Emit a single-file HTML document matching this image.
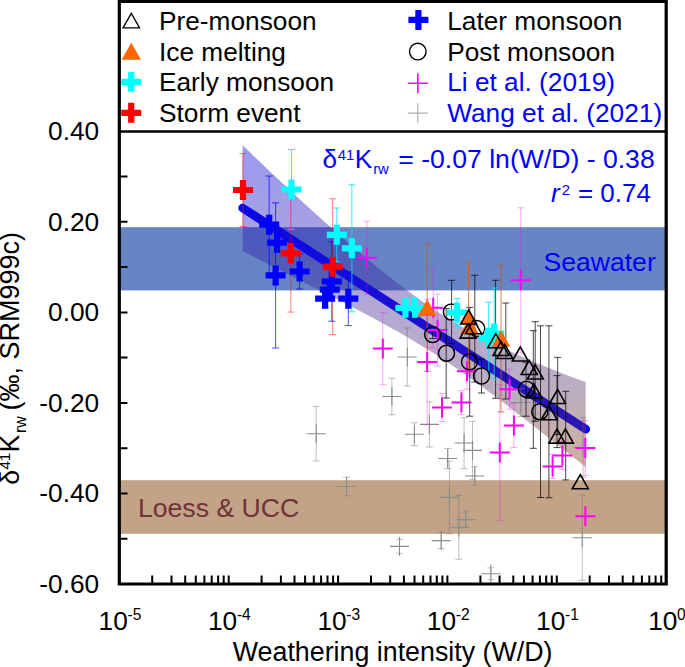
<!DOCTYPE html><html><head><meta charset="utf-8"><title>fig</title>
<style>html,body{margin:0;padding:0;background:#fff;}svg{display:block;}text{font-family:"Liberation Sans",sans-serif;}</style></head><body>
<svg width="685" height="667" viewBox="0 0 685 667">
<defs><linearGradient id="cb" gradientUnits="userSpaceOnUse" x1="0" y1="145" x2="0" y2="468"><stop offset="0" stop-color="#0000d8"/><stop offset="0.48" stop-color="#3e2598"/><stop offset="0.79" stop-color="#5c375c"/><stop offset="1" stop-color="#8a3700"/></linearGradient></defs>
<rect x="0" y="0" width="685" height="667" fill="#fff"/>
<rect x="119.3" y="227.2" width="546.9000000000001" height="63.19999999999999" fill="#6785c4"/>
<rect x="119.3" y="480.2" width="546.9000000000001" height="53.599999999999966" fill="#c2a387"/>
<path d="M242.6 208L585.7 429.2" stroke="#0000ff" stroke-width="8.6" stroke-linecap="round" fill="none"/>
<polygon fill="url(#cb)" fill-opacity="0.4" points="242.6,145.3 251.2,153.6 259.8,161.8 268.3,169.9 276.9,178.0 285.5,186.1 294.1,194.0 302.6,202.0 311.2,209.8 319.8,217.6 328.4,225.2 337.0,232.8 345.5,240.4 354.1,247.8 362.7,255.0 371.3,262.2 379.8,269.2 388.4,276.1 397.0,282.8 405.6,289.3 414.1,295.6 422.7,301.7 431.3,307.6 439.9,313.2 448.5,318.6 457.0,323.8 465.6,328.7 474.2,333.4 482.8,338.0 491.3,342.3 499.9,346.5 508.5,350.5 517.1,354.4 525.7,358.2 534.2,361.9 542.8,365.5 551.4,369.0 560.0,372.4 568.5,375.7 577.1,378.9 585.7,382.1 585.7,467.1 577.1,460.3 568.5,453.5 560.0,446.8 551.4,440.0 542.8,433.3 534.2,426.5 525.7,419.8 517.1,413.2 508.5,406.6 499.9,400.0 491.3,393.5 482.8,387.2 474.2,380.9 465.6,374.8 457.0,368.8 448.5,362.9 439.9,357.2 431.3,351.7 422.7,346.4 414.1,341.2 405.6,336.1 397.0,331.2 388.4,326.4 379.8,321.7 371.3,317.1 362.7,312.6 354.1,308.1 345.5,303.6 337.0,299.2 328.4,294.9 319.8,290.5 311.2,286.1 302.6,281.8 294.1,277.4 285.5,273.1 276.9,268.7 268.3,264.3 259.8,259.9 251.2,255.5 242.6,251.1"/>
<path d="M316.2 406.4V461.0M312.7 406.4h7M312.7 461.0h7" stroke="#707070" stroke-width="1" fill="none" opacity="0.45"/>
<path d="M346.6 477.2V495.8M343.1 477.2h7M343.1 495.8h7" stroke="#707070" stroke-width="1" fill="none" opacity="0.45"/>
<path d="M391.9 378.2V414.8M388.4 378.2h7M388.4 414.8h7" stroke="#707070" stroke-width="1" fill="none" opacity="0.45"/>
<path d="M407.3 328.0V386.0M403.8 328.0h7M403.8 386.0h7" stroke="#707070" stroke-width="1" fill="none" opacity="0.45"/>
<path d="M414.4 422.8V445.6M410.9 422.8h7M410.9 445.6h7" stroke="#707070" stroke-width="1" fill="none" opacity="0.45"/>
<path d="M429.4 401.8V447.0M425.9 401.8h7M425.9 447.0h7" stroke="#707070" stroke-width="1" fill="none" opacity="0.45"/>
<path d="M447.7 448.5V468.5M444.2 448.5h7M444.2 468.5h7" stroke="#707070" stroke-width="1" fill="none" opacity="0.45"/>
<path d="M464.1 417.6V468.4M460.6 417.6h7M460.6 468.4h7" stroke="#707070" stroke-width="1" fill="none" opacity="0.45"/>
<path d="M472.5 421.4V479.4M469.0 421.4h7M469.0 479.4h7" stroke="#707070" stroke-width="1" fill="none" opacity="0.45"/>
<path d="M474.8 466.7V485.3M471.3 466.7h7M471.3 485.3h7" stroke="#707070" stroke-width="1" fill="none" opacity="0.45"/>
<path d="M449.4 461.1V533.7M445.9 461.1h7M445.9 533.7h7" stroke="#707070" stroke-width="1" fill="none" opacity="0.45"/>
<path d="M458.8 495.3V559.3M455.3 495.3h7M455.3 559.3h7" stroke="#707070" stroke-width="1" fill="none" opacity="0.45"/>
<path d="M465.8 511.9V527.3M462.3 511.9h7M462.3 527.3h7" stroke="#707070" stroke-width="1" fill="none" opacity="0.45"/>
<path d="M399.5 539.4V553.4M396.0 539.4h7M396.0 553.4h7" stroke="#707070" stroke-width="1" fill="none" opacity="0.45"/>
<path d="M441.2 532.6V548.6M437.7 532.6h7M437.7 548.6h7" stroke="#707070" stroke-width="1" fill="none" opacity="0.45"/>
<path d="M490.8 567.8V579.8M487.3 567.8h7M487.3 579.8h7" stroke="#707070" stroke-width="1" fill="none" opacity="0.45"/>
<path d="M582.3 495.1V580.3M578.8 495.1h7M578.8 580.3h7" stroke="#707070" stroke-width="1" fill="none" opacity="0.45"/>
<path d="M520.8 388.5V416.5M517.3 388.5h7M517.3 416.5h7" stroke="#707070" stroke-width="1" fill="none" opacity="0.45"/>
<path d="M583.0 417.5V477.5M579.5 417.5h7M579.5 477.5h7" stroke="#707070" stroke-width="1" fill="none" opacity="0.45"/>
<path d="M306.7 433.7h19M316.2 424.2v19" stroke="#8c8c8c" stroke-width="1.1" fill="none"/>
<path d="M337.1 486.5h19M346.6 477.0v19" stroke="#8c8c8c" stroke-width="1.1" fill="none"/>
<path d="M382.4 396.5h19M391.9 387.0v19" stroke="#8c8c8c" stroke-width="1.1" fill="none"/>
<path d="M397.8 357.0h19M407.3 347.5v19" stroke="#8c8c8c" stroke-width="1.1" fill="none"/>
<path d="M404.9 434.2h19M414.4 424.7v19" stroke="#8c8c8c" stroke-width="1.1" fill="none"/>
<path d="M419.9 424.4h19M429.4 414.9v19" stroke="#8c8c8c" stroke-width="1.1" fill="none"/>
<path d="M438.2 458.5h19M447.7 449.0v19" stroke="#8c8c8c" stroke-width="1.1" fill="none"/>
<path d="M454.6 443.0h19M464.1 433.5v19" stroke="#8c8c8c" stroke-width="1.1" fill="none"/>
<path d="M463.0 450.4h19M472.5 440.9v19" stroke="#8c8c8c" stroke-width="1.1" fill="none"/>
<path d="M465.3 476.0h19M474.8 466.5v19" stroke="#8c8c8c" stroke-width="1.1" fill="none"/>
<path d="M439.9 497.4h19M449.4 487.9v19" stroke="#8c8c8c" stroke-width="1.1" fill="none"/>
<path d="M449.3 527.3h19M458.8 517.8v19" stroke="#8c8c8c" stroke-width="1.1" fill="none"/>
<path d="M456.3 519.6h19M465.8 510.1v19" stroke="#8c8c8c" stroke-width="1.1" fill="none"/>
<path d="M390.0 546.4h19M399.5 536.9v19" stroke="#8c8c8c" stroke-width="1.1" fill="none"/>
<path d="M431.7 540.6h19M441.2 531.1v19" stroke="#8c8c8c" stroke-width="1.1" fill="none"/>
<path d="M481.3 573.8h19M490.8 564.3v19" stroke="#8c8c8c" stroke-width="1.1" fill="none"/>
<path d="M572.8 537.7h19M582.3 528.2v19" stroke="#8c8c8c" stroke-width="1.1" fill="none"/>
<path d="M511.3 402.5h19M520.8 393.0v19" stroke="#8c8c8c" stroke-width="1.1" fill="none"/>
<path d="M573.5 447.5h19M583.0 438.0v19" stroke="#8c8c8c" stroke-width="1.1" fill="none"/>
<path d="M366.8 221.2V294.4M363.3 221.2h7M363.3 294.4h7" stroke="#ff00ff" stroke-width="1" fill="none" opacity="0.35"/>
<path d="M382.8 312.4V384.4M379.3 312.4h7M379.3 384.4h7" stroke="#ff00ff" stroke-width="1" fill="none" opacity="0.35"/>
<path d="M433.2 267.8V347.8M429.7 267.8h7M429.7 347.8h7" stroke="#ff00ff" stroke-width="1" fill="none" opacity="0.35"/>
<path d="M437.5 294.0V366.0M434.0 294.0h7M434.0 366.0h7" stroke="#ff00ff" stroke-width="1" fill="none" opacity="0.35"/>
<path d="M427.2 299.2V424.8M423.7 299.2h7M423.7 424.8h7" stroke="#ff00ff" stroke-width="1" fill="none" opacity="0.35"/>
<path d="M442.0 393.5V421.5M438.5 393.5h7M438.5 421.5h7" stroke="#ff00ff" stroke-width="1" fill="none" opacity="0.35"/>
<path d="M461.4 390.6V414.6M457.9 390.6h7M457.9 414.6h7" stroke="#ff00ff" stroke-width="1" fill="none" opacity="0.35"/>
<path d="M467.0 353.2V389.2M463.5 353.2h7M463.5 389.2h7" stroke="#ff00ff" stroke-width="1" fill="none" opacity="0.35"/>
<path d="M509.5 369.2V409.2M506.0 369.2h7M506.0 409.2h7" stroke="#ff00ff" stroke-width="1" fill="none" opacity="0.35"/>
<path d="M513.9 403.6V447.6M510.4 403.6h7M510.4 447.6h7" stroke="#ff00ff" stroke-width="1" fill="none" opacity="0.35"/>
<path d="M499.8 384.7V520.3M496.3 384.7h7M496.3 520.3h7" stroke="#ff00ff" stroke-width="1" fill="none" opacity="0.35"/>
<path d="M520.7 207.8V352.8M517.2 207.8h7M517.2 352.8h7" stroke="#ff00ff" stroke-width="1" fill="none" opacity="0.35"/>
<path d="M552.6 454.5V478.5M549.1 454.5h7M549.1 478.5h7" stroke="#ff00ff" stroke-width="1" fill="none" opacity="0.35"/>
<path d="M562.4 441.5V469.5M558.9 441.5h7M558.9 469.5h7" stroke="#ff00ff" stroke-width="1" fill="none" opacity="0.35"/>
<path d="M585.3 420.6V475.6M581.8 420.6h7M581.8 475.6h7" stroke="#ff00ff" stroke-width="1" fill="none" opacity="0.35"/>
<path d="M451.6 280.3V343.7M448.1 280.3h7M448.1 343.7h7" stroke="#000" stroke-width="1" fill="none" opacity="0.72"/>
<path d="M474.8 275.2V382.0M471.3 275.2h7M471.3 382.0h7" stroke="#000" stroke-width="1" fill="none" opacity="0.72"/>
<path d="M446.2 308.4V398.0M442.7 308.4h7M442.7 398.0h7" stroke="#000" stroke-width="1" fill="none" opacity="0.72"/>
<path d="M469.7 307.4V416.2M466.2 307.4h7M466.2 416.2h7" stroke="#000" stroke-width="1" fill="none" opacity="0.72"/>
<path d="M481.5 359.0V393.0M478.0 359.0h7M478.0 393.0h7" stroke="#000" stroke-width="1" fill="none" opacity="0.72"/>
<path d="M495.6 280.3V398.3M492.1 280.3h7M492.1 398.3h7" stroke="#000" stroke-width="1" fill="none" opacity="0.72"/>
<path d="M505.8 303.0V399.0M502.3 303.0h7M502.3 399.0h7" stroke="#000" stroke-width="1" fill="none" opacity="0.72"/>
<path d="M526.0 362.2V416.2M522.5 362.2h7M522.5 416.2h7" stroke="#000" stroke-width="1" fill="none" opacity="0.72"/>
<path d="M533.3 330.7V448.3M529.8 330.7h7M529.8 448.3h7" stroke="#000" stroke-width="1" fill="none" opacity="0.72"/>
<path d="M535.2 321.7V421.3M531.7 321.7h7M531.7 421.3h7" stroke="#000" stroke-width="1" fill="none" opacity="0.72"/>
<path d="M540.5 325.8V497.5M537.0 325.8h7M537.0 497.5h7" stroke="#000" stroke-width="1" fill="none" opacity="0.72"/>
<path d="M548.9 325.8V497.7M545.4 325.8h7M545.4 497.7h7" stroke="#000" stroke-width="1" fill="none" opacity="0.72"/>
<path d="M557.7 357.4V434.6M554.2 357.4h7M554.2 434.6h7" stroke="#000" stroke-width="1" fill="none" opacity="0.72"/>
<path d="M565.7 391.3V479.9M562.2 391.3h7M562.2 479.9h7" stroke="#000" stroke-width="1" fill="none" opacity="0.72"/>
<path d="M557.0 375.6V447.6M553.5 375.6h7M553.5 447.6h7" stroke="#000" stroke-width="1" fill="none" opacity="0.72"/>
<path d="M432.6 330.6V338.6M429.1 330.6h7M429.1 338.6h7" stroke="#000" stroke-width="1" fill="none" opacity="0.72"/>
<path d="M427.2 244.1V371.3M423.7 244.1h7M423.7 371.3h7" stroke="#c85a14" stroke-width="1" fill="none" opacity="0.75"/>
<path d="M468.6 262.3V371.7M465.1 262.3h7M465.1 371.7h7" stroke="#c85a14" stroke-width="1" fill="none" opacity="0.75"/>
<path d="M501.0 265.1V411.9M497.5 265.1h7M497.5 411.9h7" stroke="#c85a14" stroke-width="1" fill="none" opacity="0.75"/>
<path d="M291.5 149.5V229.5M288.0 149.5h7M288.0 229.5h7" stroke="#00e4ff" stroke-width="1" fill="none" opacity="0.8"/>
<path d="M336.8 208.0V261.6M333.3 208.0h7M333.3 261.6h7" stroke="#00e4ff" stroke-width="1" fill="none" opacity="0.8"/>
<path d="M351.9 184.8V311.8M348.4 184.8h7M348.4 311.8h7" stroke="#00e4ff" stroke-width="1" fill="none" opacity="0.8"/>
<path d="M457.0 298.6V326.4M453.5 298.6h7M453.5 326.4h7" stroke="#00e4ff" stroke-width="1" fill="none" opacity="0.8"/>
<path d="M488.7 302.3V373.3M485.2 302.3h7M485.2 373.3h7" stroke="#00e4ff" stroke-width="1" fill="none" opacity="0.8"/>
<path d="M494.2 288.0V379.0M490.7 288.0h7M490.7 379.0h7" stroke="#00e4ff" stroke-width="1" fill="none" opacity="0.8"/>
<path d="M243.0 153.5V226.5M239.5 153.5h7M239.5 226.5h7" stroke="#ff0000" stroke-width="1" fill="none" opacity="0.5"/>
<path d="M290.8 194.5V312.1M287.3 194.5h7M287.3 312.1h7" stroke="#ff0000" stroke-width="1" fill="none" opacity="0.5"/>
<path d="M332.7 198.8V334.6M329.2 198.8h7M329.2 334.6h7" stroke="#ff0000" stroke-width="1" fill="none" opacity="0.5"/>
<path d="M269.2 176.0V273.4M265.7 176.0h7M265.7 273.4h7" stroke="#0000ff" stroke-width="1" fill="none" opacity="0.7"/>
<path d="M275.6 202.8V348.0M272.1 202.8h7M272.1 348.0h7" stroke="#0000ff" stroke-width="1" fill="none" opacity="0.7"/>
<path d="M299.6 254.0V289.0M296.1 254.0h7M296.1 289.0h7" stroke="#0000ff" stroke-width="1" fill="none" opacity="0.7"/>
<path d="M331.8 241.8V321.2M328.3 241.8h7M328.3 321.2h7" stroke="#0000ff" stroke-width="1" fill="none" opacity="0.7"/>
<path d="M325.1 289.8V307.6M321.6 289.8h7M321.6 307.6h7" stroke="#0000ff" stroke-width="1" fill="none" opacity="0.7"/>
<path d="M348.3 271.8V325.6M344.8 271.8h7M344.8 325.6h7" stroke="#0000ff" stroke-width="1" fill="none" opacity="0.7"/>
<path d="M356.8 257.8h20M366.8 247.8v20" stroke="#ff00ff" stroke-width="2" fill="none"/>
<path d="M372.8 348.4h20M382.8 338.4v20" stroke="#ff00ff" stroke-width="2" fill="none"/>
<path d="M423.2 307.8h20M433.2 297.8v20" stroke="#ff00ff" stroke-width="2" fill="none"/>
<path d="M427.5 330.0h20M437.5 320.0v20" stroke="#ff00ff" stroke-width="2" fill="none"/>
<path d="M417.2 362.0h20M427.2 352.0v20" stroke="#ff00ff" stroke-width="2" fill="none"/>
<path d="M432.0 407.5h20M442.0 397.5v20" stroke="#ff00ff" stroke-width="2" fill="none"/>
<path d="M451.4 402.6h20M461.4 392.6v20" stroke="#ff00ff" stroke-width="2" fill="none"/>
<path d="M457.0 371.2h20M467.0 361.2v20" stroke="#ff00ff" stroke-width="2" fill="none"/>
<path d="M499.5 389.2h20M509.5 379.2v20" stroke="#ff00ff" stroke-width="2" fill="none"/>
<path d="M503.9 425.6h20M513.9 415.6v20" stroke="#ff00ff" stroke-width="2" fill="none"/>
<path d="M489.8 452.5h20M499.8 442.5v20" stroke="#ff00ff" stroke-width="2" fill="none"/>
<path d="M510.7 280.3h20M520.7 270.3v20" stroke="#ff00ff" stroke-width="2" fill="none"/>
<path d="M542.6 466.5h20M552.6 456.5v20" stroke="#ff00ff" stroke-width="2" fill="none"/>
<path d="M552.4 455.5h20M562.4 445.5v20" stroke="#ff00ff" stroke-width="2" fill="none"/>
<path d="M575.3 448.1h20M585.3 438.1v20" stroke="#ff00ff" stroke-width="2" fill="none"/>
<path d="M575.4 516.3h20M585.4 506.3v20" stroke="#ff00ff" stroke-width="2" fill="none"/>
<circle cx="451.4" cy="312.0" r="8.0" fill="none" stroke="#000" stroke-width="1.5"/>
<circle cx="476.8" cy="328.6" r="8.0" fill="none" stroke="#000" stroke-width="1.5"/>
<circle cx="432.6" cy="334.6" r="8.0" fill="none" stroke="#000" stroke-width="1.5"/>
<circle cx="446.5" cy="353.2" r="8.0" fill="none" stroke="#000" stroke-width="1.5"/>
<circle cx="469.5" cy="361.8" r="8.0" fill="none" stroke="#000" stroke-width="1.5"/>
<circle cx="481.5" cy="376.0" r="8.0" fill="none" stroke="#000" stroke-width="1.5"/>
<circle cx="526.5" cy="389.2" r="8.0" fill="none" stroke="#000" stroke-width="1.5"/>
<circle cx="539.8" cy="411.7" r="8.0" fill="none" stroke="#000" stroke-width="1.5"/>
<path d="M259.2 224.7h20M269.2 214.7v20" stroke="#0000ff" stroke-width="6.2" fill="none"/>
<path d="M267.1 242.7h20M277.1 232.7v20" stroke="#0000ff" stroke-width="6.2" fill="none"/>
<path d="M265.6 275.4h20M275.6 265.4v20" stroke="#0000ff" stroke-width="6.2" fill="none"/>
<path d="M289.6 271.5h20M299.6 261.5v20" stroke="#0000ff" stroke-width="6.2" fill="none"/>
<path d="M321.8 281.5h20M331.8 271.5v20" stroke="#0000ff" stroke-width="6.2" fill="none"/>
<path d="M319.8 289.6h20M329.8 279.6v20" stroke="#0000ff" stroke-width="6.2" fill="none"/>
<path d="M315.1 298.7h20M325.1 288.7v20" stroke="#0000ff" stroke-width="6.2" fill="none"/>
<path d="M338.3 298.7h20M348.3 288.7v20" stroke="#0000ff" stroke-width="6.2" fill="none"/>
<path d="M233.0 190.0h20M243.0 180.0v20" stroke="#ff0000" stroke-width="6.2" fill="none"/>
<path d="M280.8 253.3h20M290.8 243.3v20" stroke="#ff0000" stroke-width="6.2" fill="none"/>
<path d="M322.7 266.7h20M332.7 256.7v20" stroke="#ff0000" stroke-width="6.2" fill="none"/>
<path d="M281.5 189.5h20M291.5 179.5v20" stroke="#00ffff" stroke-width="6.2" fill="none"/>
<path d="M326.8 234.8h20M336.8 224.8v20" stroke="#00ffff" stroke-width="6.2" fill="none"/>
<path d="M341.9 248.3h20M351.9 238.3v20" stroke="#00ffff" stroke-width="6.2" fill="none"/>
<path d="M395.4 307.8h20M405.4 297.8v20" stroke="#00ffff" stroke-width="6.2" fill="none"/>
<path d="M405.0 307.8h20M415.0 297.8v20" stroke="#00ffff" stroke-width="6.2" fill="none"/>
<path d="M447.0 312.5h20M457.0 302.5v20" stroke="#00ffff" stroke-width="6.2" fill="none"/>
<path d="M478.7 337.8h20M488.7 327.8v20" stroke="#00ffff" stroke-width="6.2" fill="none"/>
<path d="M484.2 333.5h20M494.2 323.5v20" stroke="#00ffff" stroke-width="6.2" fill="none"/>
<path d="M427.20 301.03L435.18 315.20H419.22Z" fill="#ff6600" stroke="#ff6600" stroke-width="1.6" stroke-linejoin="miter"/>
<path d="M501.00 331.83L508.98 346.00H493.02Z" fill="#ff6600" stroke="#ff6600" stroke-width="1.6" stroke-linejoin="miter"/>
<path d="M469.60 319.13L477.58 333.30H461.62Z" fill="#ff6600" stroke="#ff6600" stroke-width="1.6" stroke-linejoin="miter"/>
<path d="M468.60 309.83L476.58 324.00H460.62Z" fill="#ff6600" stroke="#000" stroke-width="1.6" stroke-linejoin="miter"/>
<path d="M468.00 323.93L475.98 338.10H460.02Z" fill="none" stroke="#000" stroke-width="1.6" stroke-linejoin="miter"/>
<path d="M473.60 319.53L481.58 333.70H465.62Z" fill="none" stroke="#000" stroke-width="1.6" stroke-linejoin="miter"/>
<path d="M495.80 333.53L503.78 347.70H487.82Z" fill="none" stroke="#000" stroke-width="1.6" stroke-linejoin="miter"/>
<path d="M501.00 341.33L508.98 355.50H493.02Z" fill="none" stroke="#000" stroke-width="1.6" stroke-linejoin="miter"/>
<path d="M504.80 344.33L512.78 358.50H496.82Z" fill="none" stroke="#000" stroke-width="1.6" stroke-linejoin="miter"/>
<path d="M520.30 346.83L528.28 361.00H512.32Z" fill="none" stroke="#000" stroke-width="1.6" stroke-linejoin="miter"/>
<path d="M529.20 360.33L537.18 374.50H521.22Z" fill="none" stroke="#000" stroke-width="1.6" stroke-linejoin="miter"/>
<path d="M535.30 364.83L543.28 379.00H527.32Z" fill="none" stroke="#000" stroke-width="1.6" stroke-linejoin="miter"/>
<path d="M534.00 383.83L541.98 398.00H526.02Z" fill="none" stroke="#000" stroke-width="1.6" stroke-linejoin="miter"/>
<path d="M557.60 389.33L565.58 403.50H549.62Z" fill="none" stroke="#000" stroke-width="1.6" stroke-linejoin="miter"/>
<path d="M549.20 405.63L557.18 419.80H541.22Z" fill="none" stroke="#000" stroke-width="1.6" stroke-linejoin="miter"/>
<path d="M557.00 428.93L564.98 443.10H549.02Z" fill="none" stroke="#000" stroke-width="1.6" stroke-linejoin="miter"/>
<path d="M565.40 428.93L573.38 443.10H557.42Z" fill="none" stroke="#000" stroke-width="1.6" stroke-linejoin="miter"/>
<path d="M580.30 474.53L588.28 488.70H572.32Z" fill="none" stroke="#000" stroke-width="1.6" stroke-linejoin="miter"/>
<path d="M119.3 1.3H666.2V584.0H119.3Z" fill="none" stroke="#000" stroke-width="3.2" stroke-linejoin="miter"/>
<path d="M119.3 131.5H666.2" stroke="#000" stroke-width="2.6"/>
<path d="M152.2 583.0v-7.5M171.5 583.0v-7.5M185.2 583.0v-7.5M195.8 583.0v-7.5M204.4 583.0v-7.5M211.7 583.0v-7.5M218.1 583.0v-7.5M223.7 583.0v-7.5M228.7 583.0v-7.5M261.6 583.0v-7.5M280.9 583.0v-7.5M294.5 583.0v-7.5M305.1 583.0v-7.5M313.8 583.0v-7.5M321.1 583.0v-7.5M327.5 583.0v-7.5M333.1 583.0v-7.5M338.1 583.0v-7.5M371.0 583.0v-7.5M390.2 583.0v-7.5M403.9 583.0v-7.5M414.5 583.0v-7.5M423.2 583.0v-7.5M430.5 583.0v-7.5M436.8 583.0v-7.5M442.4 583.0v-7.5M447.4 583.0v-7.5M480.4 583.0v-7.5M499.6 583.0v-7.5M513.3 583.0v-7.5M523.9 583.0v-7.5M532.6 583.0v-7.5M539.9 583.0v-7.5M546.2 583.0v-7.5M551.8 583.0v-7.5M556.8 583.0v-7.5M589.7 583.0v-7.5M609.0 583.0v-7.5M622.7 583.0v-7.5M633.3 583.0v-7.5M641.9 583.0v-7.5M649.3 583.0v-7.5M655.6 583.0v-7.5M661.2 583.0v-7.5M120.3 176.6h7.2M120.3 221.8h7.2M120.3 267.1h7.2M120.3 312.4h7.2M120.3 357.6h7.2M120.3 402.9h7.2M120.3 448.2h7.2M120.3 493.5h7.2M120.3 538.7h7.2" stroke="#000" stroke-width="2" fill="none"/>
<text x="99.2" y="140.10000000000002" font-size="26.25" fill="#000" text-anchor="end" >0.40</text>
<text x="99.2" y="230.64000000000004" font-size="26.25" fill="#000" text-anchor="end" >0.20</text>
<text x="99.2" y="321.18" font-size="26.25" fill="#000" text-anchor="end" >0.00</text>
<text x="99.2" y="411.7200000000001" font-size="26.25" fill="#000" text-anchor="end" >-0.20</text>
<text x="99.2" y="502.26000000000005" font-size="26.25" fill="#000" text-anchor="end" >-0.40</text>
<text x="99.2" y="592.8" font-size="26.25" fill="#000" text-anchor="end" >-0.60</text>
<text x="98.6" y="630.3" font-size="26.25" fill="#000" text-anchor="start" >10</text>
<text x="127.5" y="619.6" font-size="15.6" fill="#000" text-anchor="start" >-5</text>
<text x="208.0" y="630.3" font-size="26.25" fill="#000" text-anchor="start" >10</text>
<text x="236.9" y="619.6" font-size="15.6" fill="#000" text-anchor="start" >-4</text>
<text x="317.4" y="630.3" font-size="26.25" fill="#000" text-anchor="start" >10</text>
<text x="346.3" y="619.6" font-size="15.6" fill="#000" text-anchor="start" >-3</text>
<text x="426.8" y="630.3" font-size="26.25" fill="#000" text-anchor="start" >10</text>
<text x="455.7" y="619.6" font-size="15.6" fill="#000" text-anchor="start" >-2</text>
<text x="536.1" y="630.3" font-size="26.25" fill="#000" text-anchor="start" >10</text>
<text x="565.0" y="619.6" font-size="15.6" fill="#000" text-anchor="start" >-1</text>
<text x="648.2" y="630.3" font-size="26.25" fill="#000" text-anchor="start" >10</text>
<text x="677.1" y="619.6" font-size="15.6" fill="#000" text-anchor="start" >0</text>
<text x="232.8" y="661" font-size="26.8" fill="#000" text-anchor="start" >Weathering intensity (W/D)</text>
<g transform="translate(19.4,484.8) rotate(-90)">
<text x="0" y="0" font-size="26.8" fill="#000" text-anchor="start" >δ</text>
<text x="15.2" y="-9" font-size="15.2" fill="#000" text-anchor="start" >41</text>
<text x="32.4" y="0" font-size="26.8" fill="#000" text-anchor="start" >K</text>
<text x="51.8" y="6.5" font-size="16" fill="#000" text-anchor="start" >rw</text>
<text x="74.2" y="0" font-size="27" fill="#000" text-anchor="start" >(‰, SRM999c)</text>
</g>
<text x="159" y="29.5" font-size="26.25" fill="#000" text-anchor="start" >Pre-monsoon</text>
<text x="159" y="60.6" font-size="26.25" fill="#000" text-anchor="start" >Ice melting</text>
<text x="159" y="91.4" font-size="26.25" fill="#000" text-anchor="start" >Early monsoon</text>
<text x="159" y="121.8" font-size="26.25" fill="#000" text-anchor="start" >Storm event</text>
<text x="447.2" y="29.5" font-size="26.25" fill="#000" text-anchor="start" >Later monsoon</text>
<text x="447.2" y="60.6" font-size="26.25" fill="#000" text-anchor="start" >Post monsoon</text>
<text x="447.2" y="91.4" font-size="26.25" fill="#0000ff" text-anchor="start" >Li et al. (2019)</text>
<text x="447.2" y="121.8" font-size="26.25" fill="#0000ff" text-anchor="start" >Wang et al. (2021)</text>
<path d="M131.30 13.32L139.58 27.95H123.02Z" fill="none" stroke="#000" stroke-width="1.3" stroke-linejoin="miter"/>
<path d="M131.30 44.01L139.88 59.05H122.72Z" fill="#ff6600" stroke="#ff6600" stroke-width="1.3" stroke-linejoin="miter"/>
<path d="M121.2 81.8h20M131.2 71.8v20" stroke="#00ffff" stroke-width="6.2" fill="none"/>
<path d="M121.2 112.8h20M131.2 102.8v20" stroke="#ff0000" stroke-width="6.2" fill="none"/>
<path d="M408.4 19.9h20M418.4 9.9v20" stroke="#0000ff" stroke-width="6.2" fill="none"/>
<circle cx="417.8" cy="51.6" r="8.3" fill="none" stroke="#000" stroke-width="1.4"/>
<path d="M407.8 83.2h20M417.8 73.2v20" stroke="#ff00ff" stroke-width="1.6" fill="none"/>
<path d="M407.8 113.2h20M417.8 103.2v20" stroke="#b0b0b0" stroke-width="1.2" fill="none"/>
<g>
<text x="322.6" y="167.6" font-size="26.25" fill="#0000ff" text-anchor="start" >δ</text>
<text x="337.8" y="160.2" font-size="14.8" fill="#0000ff" text-anchor="start" >41</text>
<text x="354.8" y="167.6" font-size="26.25" fill="#0000ff" text-anchor="start" >K</text>
<text x="373.2" y="174.2" font-size="14.8" fill="#0000ff" text-anchor="start" >rw</text>
<text x="654.7" y="167.6" font-size="26.6" fill="#0000ff" text-anchor="end" >= -0.07 ln(W/D) - 0.38</text>
<text x="550.9" y="202.3" font-size="26.25" fill="#0000ff" text-anchor="start" font-style="italic">r</text>
<text x="561.8" y="194.8" font-size="14.8" fill="#0000ff" text-anchor="start" >2</text>
<text x="650.9" y="202.3" font-size="26.0" fill="#0000ff" text-anchor="end" >= 0.74</text>
<text x="543.4" y="270.8" font-size="26.6" fill="#0000ff" text-anchor="start" >Seawater</text>
</g>
<text x="137.9" y="516.6" font-size="26.65" fill="#6e3238" text-anchor="start" >Loess &amp; UCC</text>
</svg></body></html>
